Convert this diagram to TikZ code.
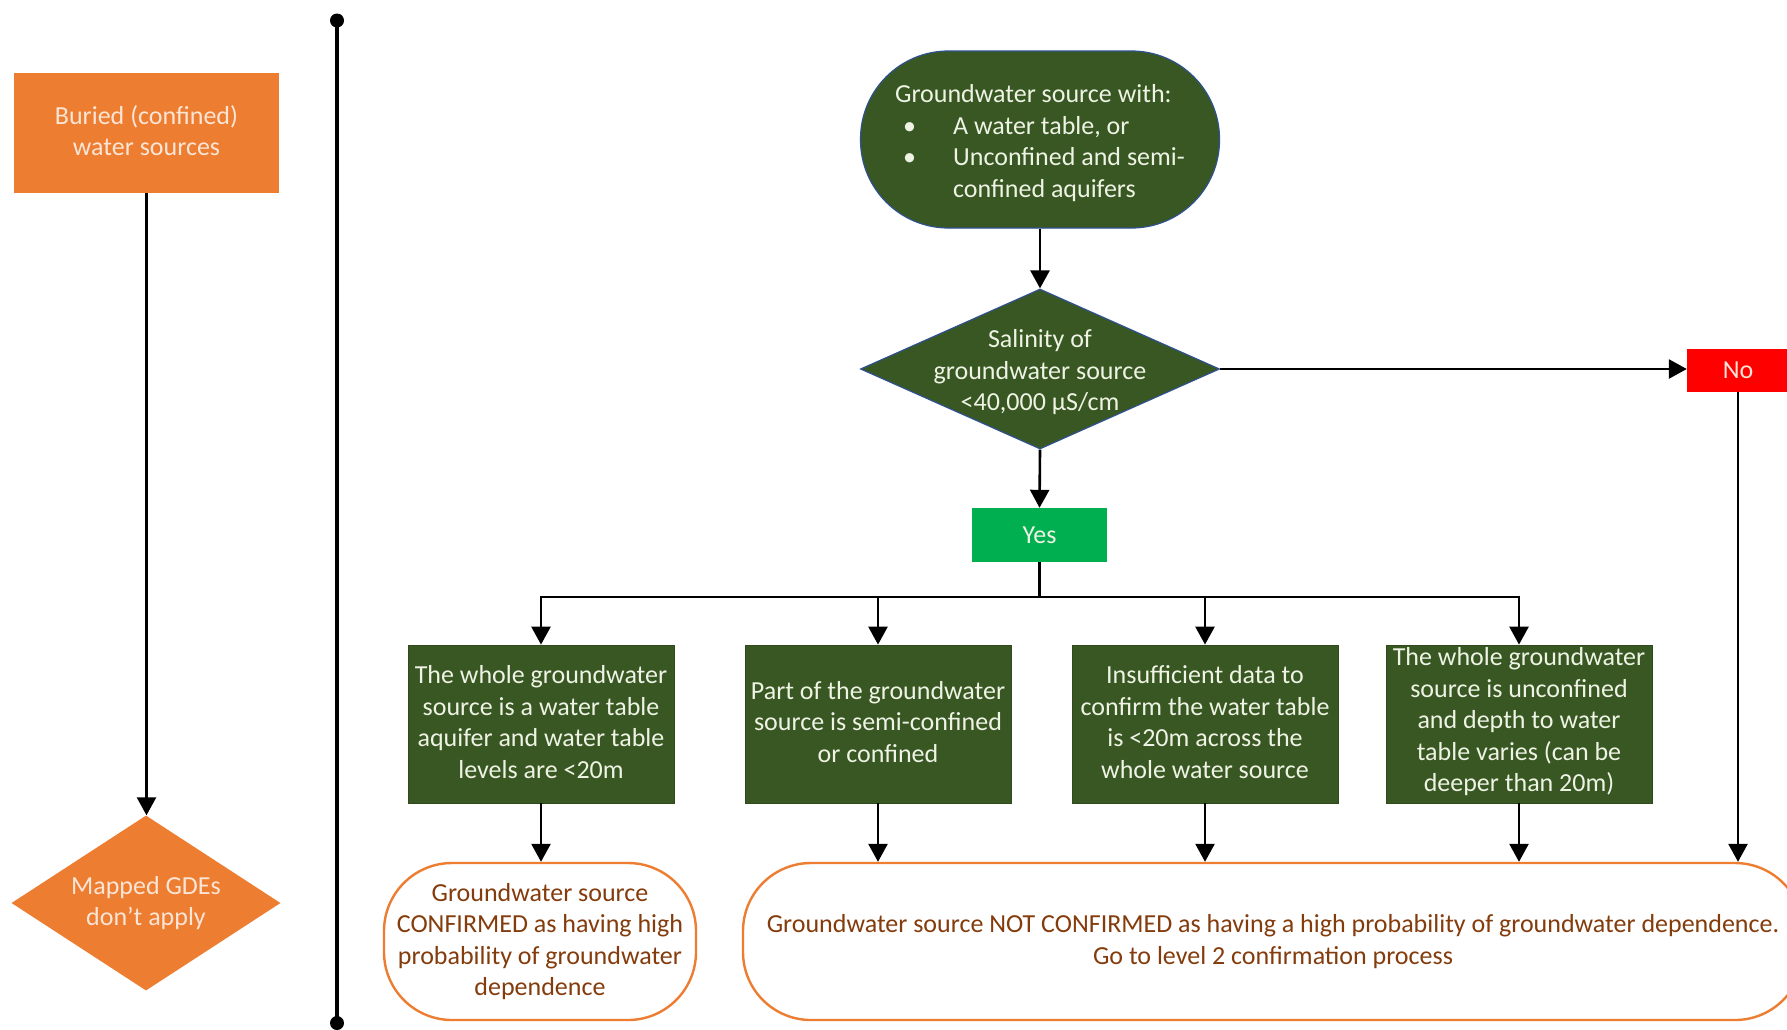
\documentclass[tikz,border=0pt]{standalone}
\usepackage{fontspec}
\setmainfont{Carlito}
\usetikzlibrary{arrows.meta,shapes.geometric}
\definecolor{dkgreen}{HTML}{385723}
\definecolor{gborder}{HTML}{2F528F}
\definecolor{orng}{HTML}{ED7D31}
\definecolor{ygreen}{HTML}{00B050}
\definecolor{brn}{HTML}{843C0C}
\definecolor{cream}{HTML}{EEF3E4}
\definecolor{peach}{HTML}{FBE5D6}
\begin{document}
\begin{tikzpicture}[x=1pt,y=-1pt,
  font=\fontsize{26}{31.5}\selectfont,
  line/.style={line width=2.6pt},
  conn/.style={line width=2.6pt,-{Triangle[length=18pt,width=19pt]}},
  gbox/.style={draw=dkgreen!85!black,line width=0.8pt,fill=dkgreen,minimum width=266pt,minimum height=158pt,inner sep=0pt},
  gtxt/.style={align=center,inner sep=0pt,text=cream,yshift=2pt},
  outterm/.style={draw=orng,line width=2.4pt,fill=white,text=brn,align=center,
    minimum height=157pt,inner sep=0pt,rounded corners=68pt},
  txt/.style={align=center,inner sep=0pt}]
\useasboundingbox[fill=white] (0,0) rectangle (1787,1029);

% left column
\node[fill=orng,minimum width=265pt,minimum height=120pt,inner sep=0pt] (buried) at (146.5,133) {};
\node[txt,text=peach,yshift=2.5pt] (buriedt) at (buried.center) {Buried (confined)\\water sources};
\node[diamond,fill=orng,minimum width=269pt,minimum height=175pt,inner sep=0pt] (mapped) at (146,903) {};
\node[txt,text=peach] (mappedt) at (mapped.center) {Mapped GDEs\\don’t apply};
\draw[conn] (buried.south) -- (buried.south |- mapped.north);

% separator
\coordinate (septop) at (337,20.5);
\coordinate (sepbot) at (337,1023);
\draw[line width=3.4pt] (septop) -- (sepbot);
\fill (septop) circle (7pt);
\fill (sepbot) circle (7pt);

% main flow
\node[draw=gborder,line width=1.2pt,fill=dkgreen,minimum width=359pt,
  minimum height=177pt,inner sep=0pt,rounded corners=88pt] (gw) at (1040,139.5) {};
\node[align=left,inner sep=0pt,text=cream,yshift=-3.5pt] (gwt) at (gw.center)
  {Groundwater source with:\\
   \hspace*{8pt}\makebox[50pt][l]{\textbullet}A water table, or\\
   \hspace*{8pt}\makebox[50pt][l]{\textbullet}Unconfined and semi-\\
   \hspace*{58pt}confined aquifers};
\node[diamond,draw=gborder,line width=1.2pt,fill=dkgreen,minimum width=359pt,minimum height=160pt,inner sep=0pt]
  (sal) at (1040,369) {};
\node[txt,text=cream,yshift=-3.5pt] (salt) at (sal.center) {Salinity of\\groundwater source\\<40,000 µS/cm};
\draw[conn] (gw.south) -- (sal.north);

\node[fill=ygreen,text=cream,minimum width=134.5pt,minimum height=54pt,inner sep=0pt] (yes) at (1039.5,535) {Yes};
\draw[conn] (sal.south) -- (yes.north);

\node[fill=red,text=peach,minimum width=102pt,minimum height=43pt,inner sep=0pt] (no) at (1738,370) {No};
\draw[conn] (sal.east) -- (sal.east -| no.west);

% four cases
\node[gbox] (b1) at (541,724) {};
\node[gtxt] (b1t) at (b1.center) {The whole groundwater\\source is a water table\\aquifer and water table\\levels are <20m};
\node[gbox] (b2) at (878,724) {};
\node[gtxt] (b2t) at (b2.center) {Part of the groundwater\\source is semi-confined\\or confined};
\node[gbox] (b3) at (1205,724) {};
\node[gtxt] (b3t) at (b3.center) {Insufficient data to\\confirm the water table\\is <20m across the\\whole water source};
\node[gbox] (b4) at (1519,724) {};
\node[gtxt] (b4t) at (b4.center) {The whole groundwater\\source is unconfined\\and depth to water\\table varies (can be\\deeper than 20m)};

\coordinate (bus) at (1040,597);
\draw[line] (yes.south) -- (yes.south |- bus);
\draw[line,line cap=rect] (b1.north |- bus) -- (b4.north |- bus);
\foreach \b in {b1,b2,b3,b4} \draw[conn] (\b.north |- bus) -- (\b.north);

% outcomes
\node[outterm,minimum width=312pt] (conf) at (540,941.5)
  {Groundwater source\\CONFIRMED as having high\\probability of groundwater\\dependence};
\node[outterm,minimum width=1060pt] (nc) at (1273,941.5)
  {Groundwater source NOT CONFIRMED as having a high probability of groundwater dependence.\\Go to level 2 confirmation process};

\draw[conn] (b1.south) -- (b1.south |- conf.north);
\foreach \b in {b2,b3,b4} \draw[conn] (\b.south) -- (\b.south |- nc.north);
\draw[conn] (no.south) -- (no.south |- nc.north);
\end{tikzpicture}
\end{document}
